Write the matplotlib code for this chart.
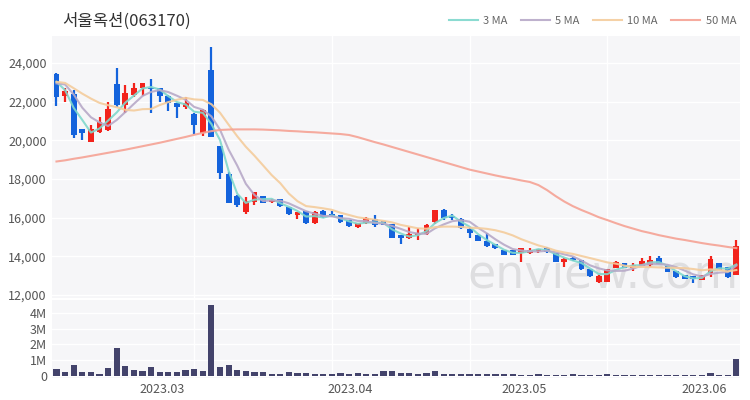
import matplotlib
matplotlib.use('Agg')
import matplotlib.pyplot as plt
import numpy as np
import pandas as pd
from matplotlib.ticker import FuncFormatter

plt.rcParams['font.family'] = ['Noto Sans CJK KR', 'DejaVu Sans']

title = '서울옥션(063170)'

# daily OHLC (one entry per trading day)
opens = [23400, 22280, 22350, 20570, 19930, 20450, 20540, 22900, 21830, 22350,
         22720, 22700, 22690, 22260, 21920, 21740, 21360, 20400, 23640, 19710,
         18240, 17090, 16310, 16830, 17090, 16800, 16950, 16520, 16140, 16310,
         15740, 16340, 16190, 16140, 15880, 15500, 15710, 15930, 15830, 15660,
         15070, 14930, 15100, 15140, 15800, 16400, 16070, 15920, 15410, 15070,
         14790, 14620, 14330, 14330, 14160, 14170, 14260, 14400, 14160, 13690,
         13900, 13810, 13330, 12660, 12700, 13380, 13640, 13400, 13480, 13550,
         13900, 13500, 13200, 13030, 12950, 12780, 13120, 13640, 13410, 13030]
highs = [23500, 22700, 22600, 20600, 20800, 21220, 22000, 23730, 22860, 22950,
         22950, 23160, 22700, 22350, 21920, 22260, 21400, 21600, 24850, 19710,
         18380, 17170, 17090, 17290, 17090, 16950, 16950, 16520, 16310, 16310,
         16350, 16400, 16340, 16140, 15880, 15710, 16050, 16140, 15850, 15700,
         15070, 15530, 15450, 15660, 16400, 16450, 16180, 16000, 15500, 15100,
         15200, 14620, 14350, 14350, 14420, 14450, 14400, 14500, 14200, 13900,
         13950, 13830, 13330, 13050, 13350, 13770, 13650, 13650, 13900, 14000,
         14030, 13500, 13200, 13030, 12950, 13030, 14000, 13640, 13410, 14850]
lows = [21800, 22000, 20150, 20000, 19900, 20370, 20500, 21740, 21400, 22260,
        22290, 21400, 22000, 21520, 21140, 21650, 20310, 20220, 20190, 18030,
        16750, 16570, 16220, 16660, 16740, 16750, 16550, 16140, 15920, 15700,
        15700, 16000, 16050, 15750, 15500, 15450, 15670, 15540, 15600, 14930,
        14620, 14900, 14850, 15100, 15700, 15900, 15880, 15400, 14950, 14780,
        14500, 14400, 14050, 14050, 13720, 14100, 14200, 14200, 13700, 13460,
        13780, 13300, 12950, 12650, 12700, 13380, 13380, 13260, 13480, 13460,
        13590, 13170, 12900, 12810, 12650, 12780, 12960, 13300, 12900, 13030]
closes = [22250, 22520, 20280, 20370, 20570, 20910, 21600, 21830, 22430, 22690,
          22950, 22650, 22290, 21920, 21740, 21920, 20790, 21570, 20190, 18300,
          16780, 16660, 16860, 17290, 16740, 16910, 16600, 16190, 16260, 15740,
          16260, 16020, 16090, 15790, 15570, 15710, 15970, 15600, 15620, 14970,
          14970, 15140, 15190, 15590, 16400, 15970, 15970, 15450, 15190, 14810,
          14550, 14420, 14070, 14070, 14420, 14330, 14380, 14250, 13720, 13850,
          13800, 13330, 13000, 12950, 13300, 13670, 13380, 13550, 13720, 13810,
          13590, 13170, 12950, 12810, 12830, 13030, 13840, 13300, 12950, 14500]
# closes of the days just before the window (for the short averages)
prior_closes = [23100, 23000, 23200, 23100, 23150, 22800, 22860, 23810, 23030]
volumes = [0.43, 0.26, 0.69, 0.22, 0.22, 0.11, 0.49, 1.76, 0.60, 0.39,
           0.28, 0.56, 0.24, 0.26, 0.26, 0.39, 0.41, 0.28, 4.56, 0.58,
           0.67, 0.34, 0.30, 0.24, 0.24, 0.11, 0.13, 0.24, 0.17, 0.15,
           0.13, 0.09, 0.13, 0.17, 0.09, 0.15, 0.11, 0.09, 0.28, 0.30,
           0.15, 0.15, 0.12, 0.15, 0.30, 0.12, 0.10, 0.10, 0.10, 0.12,
           0.10, 0.08, 0.10, 0.08, 0.03, 0.03, 0.08, 0.07, 0.04, 0.06,
           0.08, 0.05, 0.05, 0.06, 0.10, 0.06, 0.04, 0.04, 0.05, 0.04,
           0.04, 0.04, 0.04, 0.03, 0.03, 0.04, 0.15, 0.05, 0.05, 1.10]  # millions
# 50-day average as drawn (needs history outside the window)
ma50 = [18910, 18970, 19050, 19120, 19200, 19280, 19360, 19440, 19520, 19610,
        19700, 19790, 19880, 19980, 20080, 20180, 20290, 20390, 20480, 20540,
        20560, 20570, 20570, 20570, 20560, 20540, 20520, 20490, 20470, 20440,
        20420, 20390, 20360, 20330, 20280, 20170, 20040, 19910, 19790, 19660,
        19530, 19400, 19270, 19140, 19010, 18880, 18750, 18620, 18490, 18390,
        18290, 18190, 18100, 18020, 17930, 17850, 17690, 17430, 17120, 16840,
        16600, 16400, 16220, 16030, 15880, 15720, 15570, 15440, 15310, 15210,
        15100, 15010, 14920, 14850, 14770, 14690, 14620, 14560, 14490, 14430]

month_labels = ['2023.03', '2023.04', '2023.05', '2023.06']
month_pos = [12.25, 34.1, 54.4, 75.3]
price_ticks = [12000, 14000, 16000, 18000, 20000, 22000, 24000]
vol_ticks = [0, 1e6, 2e6, 3e6, 4e6]

UP = '#f2231c'
DOWN = '#1463dc'
BG = '#f6f6f8'
ma_colors = {'3 MA': '#7fd8cc', '5 MA': '#b7a9c8', '10 MA': '#f4cc9c', '50 MA': '#f5a294'}

o = np.array(opens); h = np.array(highs); l = np.array(lows); c = np.array(closes)
x = np.arange(len(c))
full = pd.Series(prior_closes + closes)
n0 = len(prior_closes)
mas = {
    '3 MA': full.rolling(3).mean().values[n0:],
    '5 MA': full.rolling(5).mean().values[n0:],
    '10 MA': full.rolling(10).mean().values[n0:],
    '50 MA': np.array(ma50),
}

fig = plt.figure(figsize=(7.5, 4), dpi=100)
ax = fig.add_axes([0.069, 0.255, 0.918, 0.655])
axv = fig.add_axes([0.069, 0.055, 0.918, 0.195], sharex=ax)

for a in (ax, axv):
    a.set_facecolor(BG)
    for s in a.spines.values():
        s.set_visible(False)
    a.tick_params(length=0, labelsize=9, colors='#555555')
    for gx in (16, 32, 48, 64):
        a.axvline(gx, color='white', lw=1, zorder=0)

up = c >= o
cols = np.where(up, UP, DOWN)
ax.vlines(x, l, h, colors=cols, lw=1.6, zorder=2)
ax.bar(x, np.abs(c - o) + 25, bottom=np.minimum(o, c), width=0.68, color=cols, zorder=3)

for name, vals in mas.items():
    ax.plot(x, vals, color=ma_colors[name], lw=1.5, alpha=0.9, zorder=4, label=name)

ax.set_ylim(11850, 25400)
ax.set_yticks(price_ticks)
ax.yaxis.set_major_formatter(FuncFormatter(lambda v, p: f'{int(v):,}'))
ax.grid(axis='y', color='white', lw=1)
ax.set_axisbelow(True)
ax.tick_params(labelbottom=False)
ax.text(0.998, 0.0, 'enview.com', transform=ax.transAxes, ha='right', va='bottom',
        fontsize=33, color='#d4d4d6', alpha=0.7, family='DejaVu Sans', zorder=1)

axv.bar(x, np.array(volumes) * 1e6, width=0.72, color='#43436b', zorder=3)
axv.set_ylim(-0.15e6, 4.85e6)
axv.set_yticks(vol_ticks)
axv.yaxis.set_major_formatter(FuncFormatter(lambda v, p: '0' if v == 0 else f'{int(v / 1e6)}M'))
axv.grid(axis='y', color='white', lw=1)
axv.set_axisbelow(True)
axv.set_xticks(month_pos)
axv.set_xticklabels(month_labels)
axv.set_xlim(-0.55, 79.45)

fig.text(0.083, 0.948, title, fontsize=12, color='#333333', va='center', ha='left')
fig.legend(loc='center right', bbox_to_anchor=(0.995, 0.948), ncol=4, frameon=False,
           fontsize=8, handlelength=2.6, columnspacing=1.2, handletextpad=0.5,
           labelcolor='#666666')

fig.savefig('out.png', dpi=100, facecolor='white')
